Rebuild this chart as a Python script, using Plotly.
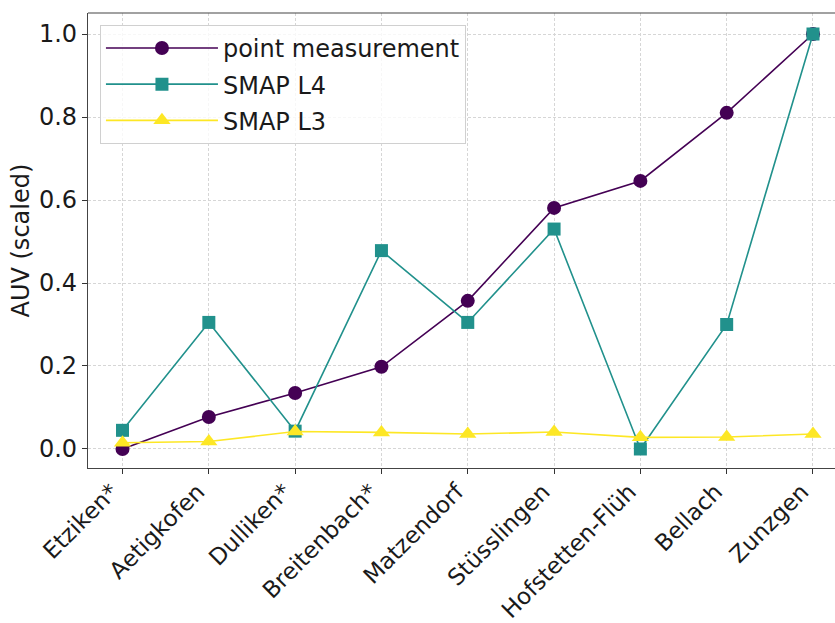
import plotly.graph_objects as go

sites = ["Etziken*", "Aetigkofen", "Dulliken*", "Breitenbach*", "Matzendorf",
         "Stüsslingen", "Hofstetten-Flüh", "Bellach", "Zunzgen"]
point_measurement = [0.0, 0.077, 0.135, 0.198, 0.357, 0.581, 0.646, 0.810, 1.0]
smap_l4 = [0.045, 0.305, 0.043, 0.478, 0.305, 0.530, 0.0, 0.300, 1.0]
smap_l3 = [0.015, 0.018, 0.042, 0.040, 0.036, 0.041, 0.028, 0.029, 0.036]
y_ticks = [0.0, 0.2, 0.4, 0.6, 0.8, 1.0]

font = "DejaVu Sans"
fs = 24
x_idx = list(range(len(sites)))

series = [
    ("point measurement", point_measurement, "#440154", "circle", 14),
    ("SMAP L4", smap_l4, "#21918c", "square", 13),
    ("SMAP L3", smap_l3, "#fde725", "triangle-up", 15),
]

fig = go.Figure()
for name, vals, color, symbol, size in series:
    fig.add_trace(go.Scatter(
        x=x_idx, y=vals, name=name, mode="lines+markers", legendgroup=name,
        line=dict(color=color, width=1.6),
        marker=dict(symbol=symbol, size=size, color=color, line=dict(width=0)),
    ))

grid = dict(showgrid=True, gridcolor="#d6d6d6", griddash="3px,2px", gridwidth=0.8)

fig.update_layout(
    width=835, height=623,
    margin=dict(l=88, r=0, t=13, b=155),
    paper_bgcolor="white", plot_bgcolor="white",
    font=dict(family=font, size=fs, color="#1a1a1a"),
    showlegend=True,
    legend=dict(
        x=0.016, y=0.974, xanchor="left", yanchor="top",
        bgcolor="rgba(255,255,255,0.8)", bordercolor="#d0d0d0", borderwidth=1,
        font=dict(family=font, size=fs, color="#1a1a1a"),
        itemwidth=112, tracegroupgap=2,
    ),
    xaxis=dict(
        range=[-0.4, 8.255], tickmode="array", tickvals=x_idx, ticktext=sites,
        tickangle=-45, ticks="outside", ticklen=5, tickcolor="#333",
        ticklabelshift=-11, ticklabelstandoff=-5,
        showline=True, linecolor="#444", linewidth=1.2, mirror=False,
        zeroline=False, tickfont=dict(size=23), automargin=False, **grid,
    ),
    yaxis=dict(
        range=[-0.0458, 1.0506], tickmode="array", tickvals=y_ticks,
        ticktext=[f"{v:.1f}" for v in y_ticks],
        ticks="outside", ticklen=5, tickcolor="#333",
        showline=True, linecolor="#444", linewidth=1.2, mirror=False,
        zeroline=False, tickfont=dict(size=fs), automargin=False,
        **grid,
    ),
)

# y-axis title, placed by hand so the plot area stays fixed
fig.add_annotation(text="AUV (scaled)", xref="paper", yref="paper",
                   x=-0.091, y=0.5, xanchor="center", yanchor="middle",
                   textangle=-90, showarrow=False, font=dict(size=fs))

# top spine
fig.add_shape(type="line", xref="paper", yref="paper", x0=0, x1=1, y0=1, y1=1,
              line=dict(color="#444", width=1.2))

fig.write_html("out.html")
